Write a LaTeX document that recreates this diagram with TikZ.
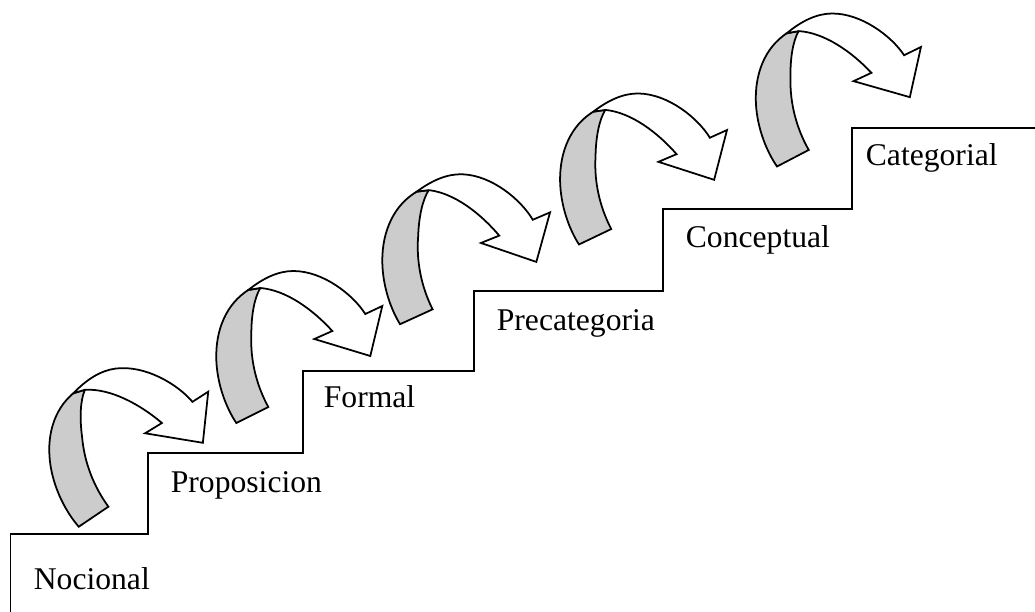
\documentclass[tikz,border=0pt]{standalone}
\usepackage{fontspec}
\setmainfont{Liberation Serif}
\usetikzlibrary{calc}
\definecolor{bandgray}{RGB}{204,204,204}
\tikzset{>=latex}
\tikzset{stairlabel/.style={anchor=base west,inner sep=0pt,font=\fontsize{18}{21}\selectfont}}

\begin{document}
\begin{tikzpicture}[x=0.02cm,y=-0.02cm,line width=1pt]
  \useasboundingbox (0,0) rectangle (1035,612);

  % Stairs
  \draw (10.5,612) -- (10.5,534) -- (148,534) -- (148,453) -- (303,453) -- (303,371)
    -- (474,371) -- (474,291) -- (663,291) -- (663,209) -- (852,209) -- (852,128) -- (1035,128);

  % Curved arrows
  \foreach \px/\py/\r in {73.3/393.3/7.5, 248.3/290/0, 416.7/191.7/-2, 593.3/111.7/-1, 786.7/33.3/1}{
    \begin{scope}[shift={(\px,\py)},rotate=\r]
      \draw[fill=bandgray] (0,0) .. controls (-22,14) and (-33,40) .. (-32,70)
        .. controls (-31,95) and (-22,118) .. (-12,133) -- (20,117)
        .. controls (8,95) and (2,70) .. (3,45) .. controls (3,25) and (6,8) .. (12,-2) -- cycle;
      \draw[fill=white] (0,0) .. controls (15,-12) and (30,-19) .. (45,-19)
        .. controls (75,-19) and (105,5) .. (117,24) -- (134,16) -- (122,66) -- (66,49) -- (84,41)
        .. controls (65,20) and (38,0) .. (12,-2) -- cycle;
    \end{scope}
  }

  % Labels
  \node[stairlabel] (nocional) at (33,589) {Nocional};
  \node[stairlabel] (proposicion) at (170,492) {Proposicion};
  \node[stairlabel] (formal) at (323,407) {Formal};
  \node[stairlabel] (precategoria) at (496,330) {Precategoria};
  \node[stairlabel] (conceptual) at (685,247) {Conceptual};
  \node[stairlabel] (categorial) at (865,165) {Categorial};
\end{tikzpicture}
\end{document}
